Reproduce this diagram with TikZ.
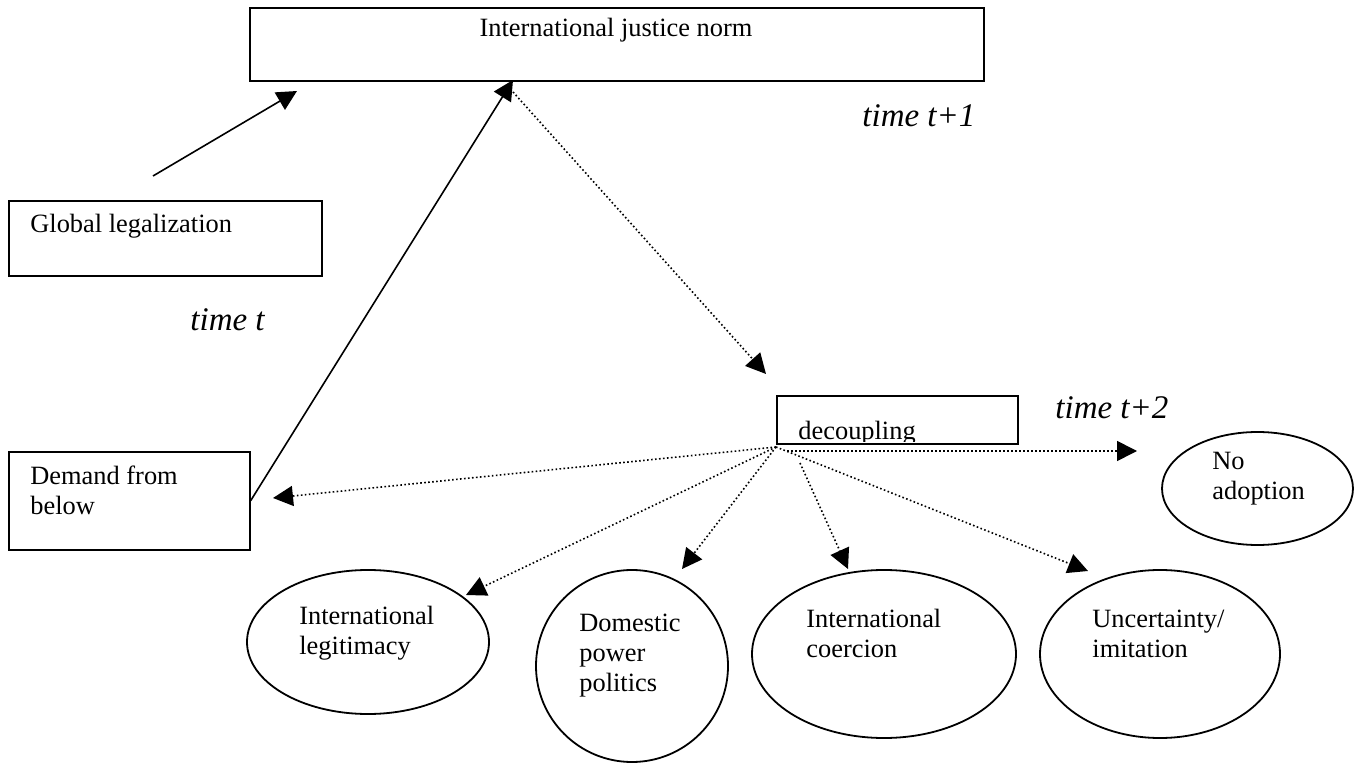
\documentclass[tikz,border=0pt]{standalone}
\usepackage{fontspec}
\setmainfont{Liberation Serif}
\usetikzlibrary{shapes.geometric,arrows.meta}
\newcommand\mlines[1]{\begin{tabular}[t]{@{}l@{}}#1\end{tabular}}
\begin{document}
\begin{tikzpicture}[x=0.5pt,y=-0.5pt,
  boxshape/.style={draw, rectangle, line width=0.8pt, inner sep=0pt, anchor=north west},
  ell/.style={draw, ellipse, line width=0.9pt, inner sep=0pt},
  lbl/.style={anchor=base west, inner sep=0pt, font=\fontsize{13.2}{15}\selectfont},
  timelbl/.style={anchor=base west, inner sep=0pt, font=\fontsize{16.5}{19}\selectfont\itshape},
  solidarrow/.style={line width=0.8pt, -{Triangle[length=10pt,width=10pt]}},
  dotarrow/.style={line width=0.8pt, dash pattern=on 0.8pt off 1.2pt, -{Triangle[length=10pt,width=10pt]}},
]
\fill[white] (0,0) rectangle (1360,764);
\useasboundingbox (0,0) rectangle (1360,764);

% boxes
\node[boxshape, minimum width=367pt, minimum height=36.5pt] (norm) at (249,7) {};
\node[boxshape, minimum width=156.5pt, minimum height=37.5pt] (glob) at (8,200) {};
\node[boxshape, minimum width=120.5pt, minimum height=49pt] (demand) at (8,451) {};
\node[boxshape, minimum width=120.5pt, minimum height=24pt] (dec) at (776,395) {};

% box texts
\node[lbl, anchor=base] (normtxt) at (616,37) {International justice norm};
\node[lbl] (globtxt) at (30,233) {Global legalization};
\node[lbl] (demtxt) at (30,485) {\mlines{Demand from\\below}};
\begin{scope}
  \clip (777,396) rectangle (1016,442);
  \node[lbl] (dectxt) at (798,440) {decoupling};
\end{scope}

% time labels
\node[timelbl] (t1) at (862,127) {time t+1};
\node[timelbl] (t0) at (190,331) {time t};
\node[timelbl] (t2) at (1055,419) {time t+2};

% ellipses
\node[ell, minimum width=121pt, minimum height=72pt] (leg) at (368,642) {};
\node[lbl] (legtxt) at (299,624) {\mlines{International\\legitimacy}};
\node[ell, minimum width=96pt, minimum height=96pt] (dom) at (632,666) {};
\node[lbl] (domtxt) at (579,631) {\mlines{Domestic\\power\\politics}};
\node[ell, minimum width=132pt, minimum height=84pt] (coer) at (884,654) {};
\node[lbl] (coertxt) at (806,627) {\mlines{International\\coercion}};
\node[ell, minimum width=120pt, minimum height=84pt] (unc) at (1160,654) {};
\node[lbl] (unctxt) at (1092,627) {\mlines{Uncertainty/\\imitation}};
\node[ell, minimum width=95.5pt, minimum height=56.5pt] (noad) at (1257.5,488.5) {};
\node[lbl] (noadtxt) at (1212,470) {\mlines{No\\adoption}};

% connector points
\coordinate (glTail) at (153,176);
\coordinate (glTip) at (297,91);
\coordinate (normHit) at (513,80);
\coordinate (normOut) at (513,92);
\coordinate (decIn) at (766,374);
\coordinate (fan) at (776,447);
\coordinate (fanH) at (787,451);
\coordinate (fanC) at (800,463);
\coordinate (demTip) at (273,498);
\coordinate (legTip) at (466,595);
\coordinate (domTip) at (682,569);
\coordinate (coerTip) at (848,569);
\coordinate (uncTip) at (1088,571);
\coordinate (noadTip) at (1137,451);

% connectors
\draw[solidarrow] (glTail) -- (glTip);
\draw[solidarrow] (demand.east) -- (normHit);
\draw[dotarrow] (normOut) -- (decIn);
\draw[dotarrow] (fan) -- (demTip);
\draw[dotarrow] (fan) -- (legTip);
\draw[dotarrow] (fan) -- (domTip);
\draw[dotarrow] (fanC) -- (coerTip);
\draw[dotarrow] (fan) -- (uncTip);
\draw[dotarrow] (fanH) -- (noadTip);
\end{tikzpicture}
\end{document}
